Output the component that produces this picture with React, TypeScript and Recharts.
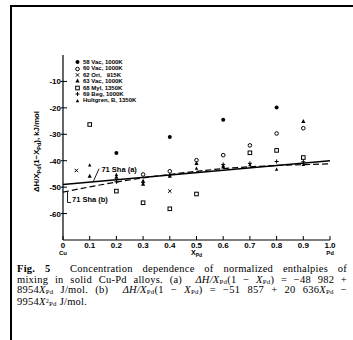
import React from 'react';
import {
  ComposedChart, Line, Scatter, XAxis, YAxis, ReferenceLine, ReferenceDot, Legend,
} from 'recharts';

const sans = '"Liberation Sans", Arial, sans-serif';
const serif = '"Liberation Serif", "Times New Roman", serif';

const xTicks = [0, 0.1, 0.2, 0.3, 0.4, 0.5, 0.6, 0.7, 0.8, 0.9, 1];
const yTicks = [-70, -60, -50, -40, -30, -20, -10, 0];

// measured points, kJ/mol
const vac58 = [
  { x: 0.2, y: -37.1 }, { x: 0.4, y: -31 }, { x: 0.6, y: -24.5 }, { x: 0.8, y: -19.9 },
];
const vac60 = [
  { x: 0.3, y: -45.2 }, { x: 0.4, y: -44 }, { x: 0.5, y: -39.8 }, { x: 0.6, y: -37.9 },
  { x: 0.7, y: -34.2 }, { x: 0.8, y: -29.7 }, { x: 0.9, y: -27.7 },
];
const ori62 = [{ x: 0.05, y: -43.7 }, { x: 0.4, y: -51.5 }];
const vac63 = [
  { x: 0.1, y: -45.8 }, { x: 0.2, y: -46.2 }, { x: 0.3, y: -48.9 }, { x: 0.4, y: -45.8 },
  { x: 0.5, y: -41 }, { x: 0.6, y: -42.3 }, { x: 0.9, y: -25.1 },
];
const myl68 = [
  { x: 0.1, y: -26.3 }, { x: 0.2, y: -51.5 }, { x: 0.3, y: -55.9 }, { x: 0.4, y: -58.2 },
  { x: 0.5, y: -52.6 }, { x: 0.7, y: -37 }, { x: 0.8, y: -36.1 }, { x: 0.9, y: -38.8 },
];
const beg69 = [
  { x: 0.2, y: -48 }, { x: 0.3, y: -48.3 }, { x: 0.6, y: -41.4 }, { x: 0.7, y: -41 },
  { x: 0.8, y: -40.3 }, { x: 0.9, y: -40.4 },
];
const hultgren = [
  { x: 0.1, y: -41.7 }, { x: 0.2, y: -45.3 }, { x: 0.3, y: -47.6 }, { x: 0.4, y: -45.3 },
  { x: 0.5, y: -42.9 }, { x: 0.6, y: -41.9 }, { x: 0.7, y: -41.6 }, { x: 0.8, y: -43.3 },
  { x: 0.9, y: -41.5 },
];

// fitted curves
const shaA = [{ x: 0, y: -49 }, { x: 1, y: -40 }];
const shaB = [
  { x: 0, y: -51.9 }, { x: 0.1, y: -49.9 }, { x: 0.2, y: -48.1 }, { x: 0.3, y: -46.5 },
  { x: 0.4, y: -45.2 }, { x: 0.5, y: -44 }, { x: 0.6, y: -43 }, { x: 0.7, y: -42.3 },
  { x: 0.8, y: -41.8 }, { x: 0.9, y: -41.5 }, { x: 1, y: -41.2 },
];

const legendItems = [
  { name: '58 Vac, 1000K', kind: 'dot' },
  { name: '60 Vac, 1000K', kind: 'ring' },
  { name: '62 Ori,   915K', kind: 'x' },
  { name: '63 Vac, 1000K', kind: 'tri' },
  { name: '68 Myl, 1350K', kind: 'sq' },
  { name: '69 Beg, 1000K', kind: 'plus' },
  { name: 'Hultgren, B, 1350K', kind: 'tri2' },
];

function mark(kind: string, cx: number, cy: number) {
  const k = '#000';
  switch (kind) {
    case 'dot':
      return <circle cx={cx} cy={cy} r={2} fill={k} />;
    case 'ring':
      return <circle cx={cx} cy={cy} r={1.8} fill="#fff" stroke={k} strokeWidth={1} />;
    case 'x':
      return (
        <path d={`M${cx - 1.7},${cy - 1.7}L${cx + 1.7},${cy + 1.7}M${cx - 1.7},${cy + 1.7}L${cx + 1.7},${cy - 1.7}`}
          stroke={k} strokeWidth={1} />
      );
    case 'tri':
      return <path d={`M${cx},${cy - 2.4}L${cx + 2.1},${cy + 1.6}L${cx - 2.1},${cy + 1.6}Z`} fill={k} />;
    case 'sq':
      return <rect x={cx - 1.8} y={cy - 1.8} width={3.6} height={3.6} fill="#fff" stroke={k} strokeWidth={1} />;
    case 'plus':
      return <path d={`M${cx - 2},${cy}L${cx + 2},${cy}M${cx},${cy - 2}L${cx},${cy + 2}`} stroke={k} strokeWidth={1} />;
    default:
      return <path d={`M${cx},${cy - 2}L${cx + 1.7},${cy + 1.3}L${cx - 1.7},${cy + 1.3}Z`} fill={k} />;
  }
}

const BottomTick = ({ x, y, payload }: any) => {
  const v = payload.value;
  const txt = v === 0 ? '0' : v === 1 ? '1.0' : v.toFixed(1);
  return (
    <g>
      <line x1={x} y1={y} x2={x} y2={y - 4} stroke="#000" strokeWidth={1} />
      <text x={x} y={y + 8} textAnchor="middle" fontFamily={sans} fontWeight="bold" fontSize={8} fill="#000">{txt}</text>
      {v === 0 && <text x={x} y={y + 15} textAnchor="middle" fontFamily={sans} fontWeight="bold" fontSize={6} fill="#000">Cu</text>}
      {v === 1 && <text x={x} y={y + 15} textAnchor="middle" fontFamily={sans} fontWeight="bold" fontSize={6} fill="#000">Pd</text>}
      {Math.abs(v - 0.5) < 1e-6 && (
        <text x={x} y={y + 15} textAnchor="middle" fontFamily={sans} fontWeight="bold" fontSize={7} fill="#000">
          X<tspan fontSize={5} dy={1.5}>Pd</tspan>
        </text>
      )}
    </g>
  );
};

const TopTick = ({ x, y }: any) => (
  <line x1={x} y1={y} x2={x} y2={y + 4} stroke="#000" strokeWidth={1} />
);

const LeftTick = ({ x, y, payload }: any) => {
  const v = payload.value;
  if (v === 0 || v === -70) return <g />;
  return (
    <g>
      <line x1={x - 2} y1={y} x2={x + 4} y2={y} stroke="#000" strokeWidth={1} />
      <text x={x - 2} y={y + 3} textAnchor="end" fontFamily={sans} fontWeight="bold" fontSize={8} fill="#000">{v}</text>
    </g>
  );
};

const RightTick = ({ x, y }: any) => (
  <line x1={x} y1={y} x2={x - 4} y2={y} stroke="#000" strokeWidth={1} />
);

const YLabel = ({ viewBox }: any) => {
  const cx = viewBox.x + 39;
  const cy = viewBox.y + viewBox.height / 2 + 4;
  return (
    <text x={cx} y={cy} transform={`rotate(-90 ${cx} ${cy})`} textAnchor="middle"
      fontFamily={sans} fontWeight="bold" fontSize={7.8} fill="#000">
      ΔH/X<tspan fontSize={5.5} dy={1.5}>Pd</tspan>
      <tspan dy={-1.5}>(1−X</tspan><tspan fontSize={5.5} dy={1.5}>Pd</tspan>
      <tspan dy={-1.5}>), kJ/mol</tspan>
    </text>
  );
};

const LegendBox = () => (
  <div style={{ fontFamily: sans, fontWeight: 'bold', fontSize: 6, lineHeight: '6.4px', color: '#000' }}>
    {legendItems.map((it) => (
      <div key={it.name} style={{ display: 'flex', alignItems: 'center', height: 6.4, whiteSpace: 'pre' }}>
        <svg width={7} height={6} style={{ marginRight: 2 }}>{mark(it.kind, 3.5, 3)}</svg>
        <span>{it.name}</span>
      </div>
    ))}
  </div>
);

const capLine: React.CSSProperties = {
  height: 10.6, lineHeight: '10.6px', whiteSpace: 'nowrap', textAlign: 'justify', textAlignLast: 'justify',
};
const sub: React.CSSProperties = { fontSize: '0.65em', verticalAlign: -1, lineHeight: 0 };
const it: React.CSSProperties = { fontStyle: 'italic' };

export default function App() {
  return (
    <div style={{ position: 'absolute', left: 0, top: 0, width: 353, height: 340, background: '#fff', overflow: 'hidden' }}>
      <div style={{ position: 'absolute', left: 10, top: 5, width: 343, height: 2, background: '#000' }} />
      <div style={{ position: 'absolute', left: 10, top: 5, width: 2, height: 335, background: '#000' }} />
      <div style={{ position: 'absolute', left: 0, top: 0 }}>
        <ComposedChart width={353} height={262} margin={{ top: 55, right: 23, bottom: 0, left: 0 }}>
          <XAxis dataKey="x" type="number" domain={[0, 1]} ticks={xTicks} interval={0}
            height={22} tickSize={0} tickMargin={0} tickLine={false}
            axisLine={{ stroke: '#000', strokeWidth: 1.2 }} tick={<BottomTick />} />
          <XAxis xAxisId="top" orientation="top" type="number" domain={[0, 1]} ticks={xTicks} interval={0}
            height={0} tickSize={0} tickMargin={0} tickLine={false}
            axisLine={{ stroke: '#000', strokeWidth: 1.2 }} tick={<TopTick />} />
          <YAxis dataKey="y" type="number" domain={[-70, 0]} ticks={yTicks} interval={0}
            width={63} tickSize={0} tickMargin={0} tickLine={false}
            axisLine={{ stroke: '#000', strokeWidth: 1.2 }} tick={<LeftTick />}
            label={{ content: <YLabel /> }} />
          <YAxis yAxisId="right" orientation="right" type="number" domain={[-70, 0]} ticks={yTicks} interval={0}
            width={0} tickSize={0} tickMargin={0} tickLine={false}
            axisLine={{ stroke: '#000', strokeWidth: 1.4 }} tick={<RightTick />} />
          <Legend layout="vertical" align="center" verticalAlign="middle" content={<LegendBox />}
            wrapperStyle={{ left: 74, top: 59, width: 90, height: 46 }} />

          <Line data={shaA} dataKey="y" type="linear" stroke="#000" strokeWidth={1.4} dot={false}
            isAnimationActive={false} legendType="none" />
          <Line data={shaB} dataKey="y" type="monotone" stroke="#000" strokeWidth={1.2} strokeDasharray="6 3"
            dot={false} isAnimationActive={false} legendType="none" />

          <ReferenceLine segment={[{ x: 0.113, y: -48 }, { x: 0.135, y: -43 }]} stroke="#000" strokeWidth={0.9} />
          <ReferenceDot x={0.14} y={-43.3} r={0.01} fill="none" stroke="none"
            label={{ value: '71 Sha (a)', position: 'right', offset: 1, fill: '#000', fontSize: 7.5, fontWeight: 'bold', fontFamily: sans }} />
          <ReferenceLine segment={[{ x: 0.017, y: -51.7 }, { x: 0.017, y: -55.8 }]} stroke="#000" strokeWidth={0.9} />
          <ReferenceLine segment={[{ x: 0.017, y: -55.8 }, { x: 0.03, y: -55.8 }]} stroke="#000" strokeWidth={0.9} />
          <ReferenceDot x={0.03} y={-54.6} r={0.01} fill="none" stroke="none"
            label={{ value: '71 Sha (b)', position: 'right', offset: 1, fill: '#000', fontSize: 7.5, fontWeight: 'bold', fontFamily: sans }} />

          <Scatter data={myl68} dataKey="y" isAnimationActive={false} shape={(p: any) => mark('sq', p.cx, p.cy)} />
          <Scatter data={vac60} dataKey="y" isAnimationActive={false} shape={(p: any) => mark('ring', p.cx, p.cy)} />
          <Scatter data={ori62} dataKey="y" isAnimationActive={false} shape={(p: any) => mark('x', p.cx, p.cy)} />
          <Scatter data={vac63} dataKey="y" isAnimationActive={false} shape={(p: any) => mark('tri', p.cx, p.cy)} />
          <Scatter data={beg69} dataKey="y" isAnimationActive={false} shape={(p: any) => mark('plus', p.cx, p.cy)} />
          <Scatter data={hultgren} dataKey="y" isAnimationActive={false} shape={(p: any) => mark('tri2', p.cx, p.cy)} />
          <Scatter data={vac58} dataKey="y" isAnimationActive={false} shape={(p: any) => mark('dot', p.cx, p.cy)} />
        </ComposedChart>
      </div>
      <div style={{ position: 'absolute', left: 17, top: 264, width: 330, fontFamily: serif, fontSize: 10.5, letterSpacing: 0.25, color: '#000' }}>
        <div style={capLine}><b>Fig. 5</b>&nbsp; Concentration dependence of normalized enthalpies of</div>
        <div style={capLine}>
          mixing in solid Cu-Pd alloys. (a)&nbsp; <span style={it}>ΔH/X</span><span style={sub}>Pd</span>(1 − <span style={it}>X</span><span style={sub}>Pd</span>) = −48 982 +
        </div>
        <div style={capLine}>
          8954<span style={it}>X</span><span style={sub}>Pd</span> J/mol. (b)&nbsp; <span style={it}>ΔH/X</span><span style={sub}>Pd</span>(1 − <span style={it}>X</span><span style={sub}>Pd</span>) = −51 857 + 20 636<span style={it}>X</span><span style={sub}>Pd</span> −
        </div>
        <div style={{ ...capLine, textAlignLast: 'left', marginTop: 1 }}>
          9954<span style={it}>X</span><span style={{ fontSize: '0.6em', verticalAlign: 2.5, lineHeight: 0 }}>2</span><span style={sub}>Pd</span> J/mol.
        </div>
      </div>
    </div>
  );
}
